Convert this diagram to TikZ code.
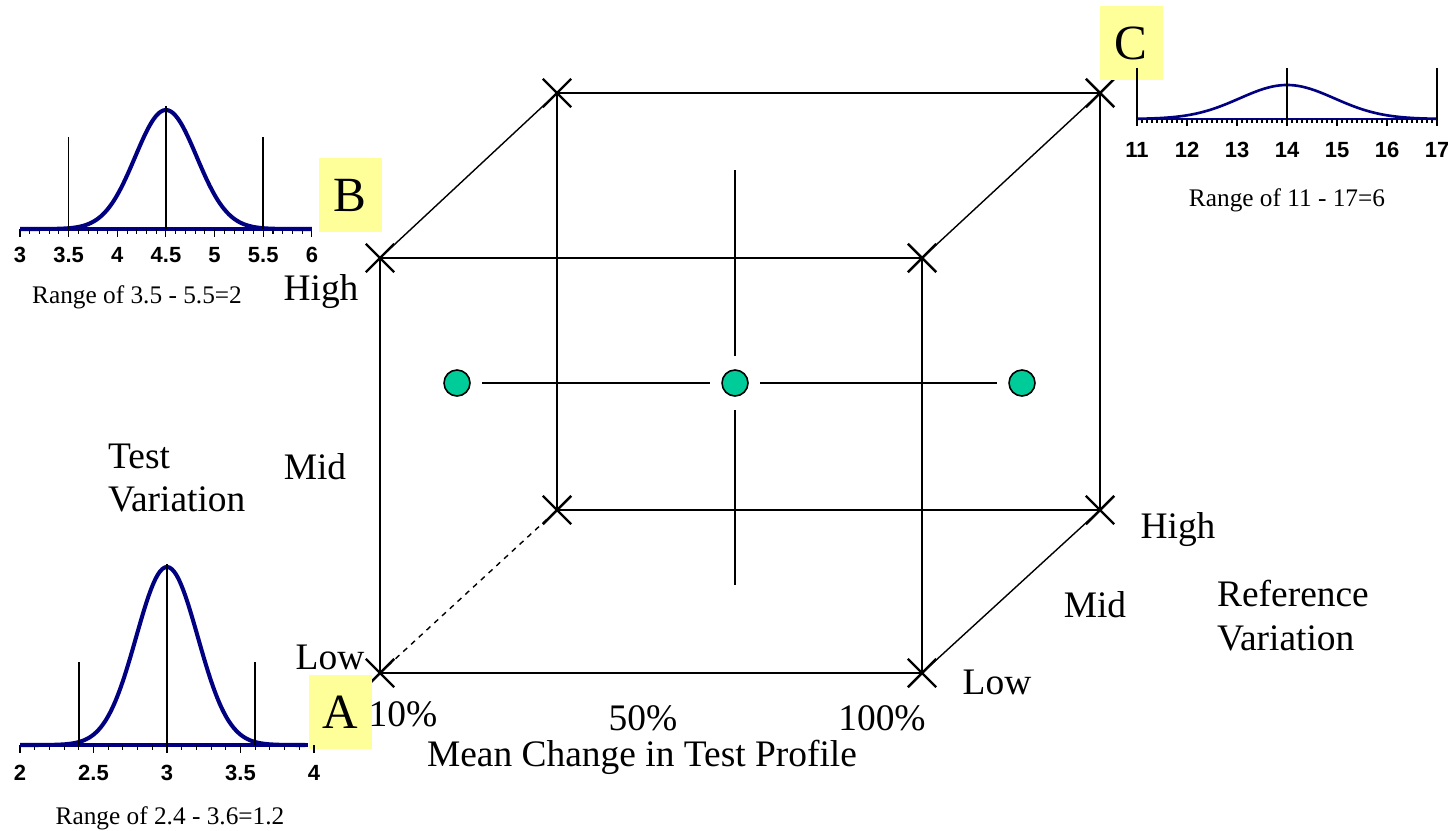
\documentclass[tikz,border=0pt]{standalone}
\usepackage{fontspec}
\setmainfont{Liberation Serif}
\newfontfamily\ticksf{Liberation Sans}
\usepackage{xcolor}
\usetikzlibrary{shapes.misc}
\definecolor{curveblue}{RGB}{0,0,128}
\definecolor{dotgreen}{RGB}{0,204,153}
\definecolor{tagyellow}{RGB}{255,255,153}

\begin{document}
\begin{tikzpicture}[x=0.2mm, y=-0.2mm, font=\fontsize{21.3}{25}\selectfont, every node/.style={inner sep=1pt}]
        \tikzset{
            edge/.style={line width=0.8pt},
            hidden/.style={edge, dashed},
            xmark/.style={draw, cross out, line width=1.4pt, minimum size=5.2mm, inner sep=0pt},
            dot/.style={circle, draw, fill=dotgreen, minimum size=5.2mm, inner sep=0pt, line width=0.9pt},
            link/.style={edge, shorten <=2.2mm, shorten >=2.2mm},
            tag/.style={fill=tagyellow, minimum width=12.6mm, minimum height=14.8mm, inner sep=0pt, font=\fontsize{28}{30}\selectfont},
            rng/.style={font=\fontsize{14.4}{16}\selectfont},
            tck/.style={font=\ticksf\bfseries\fontsize{12.5}{14}\selectfont},
            curve/.style={curveblue, line width=2.3pt, line join=round},
            axis/.style={curveblue, line width=1.8pt},
            guide/.style={line width=0.6pt}
        }
        \useasboundingbox (0,0) rectangle (1448,831);

        % cube corners (f = front, b = back)
        \coordinate (ftl) at (380,258);
        \coordinate (ftr) at (922,258);
        \coordinate (fbl) at (380,673);
        \coordinate (fbr) at (922,673);
        \coordinate (btl) at (557,93);
        \coordinate (btr) at (1100,93);
        \coordinate (bbl) at (557,510);
        \coordinate (bbr) at (1100,510);

        \draw[edge] (ftl) -- (ftr) -- (fbr) -- (fbl) -- cycle;
        \draw[edge] (btl) -- (btr) -- (bbr) -- (bbl) -- cycle;
        \draw[edge] (ftl) -- (btl);
        \draw[edge] (ftr) -- (btr);
        \draw[edge] (fbr) -- (bbr);
        \draw[hidden] (fbl) -- (bbl);

        \foreach \c in {ftl,ftr,fbl,fbr,btl,btr,bbl,bbr}
            \node[xmark] (x-\c) at (\c) {};

        % centre points
        \coordinate (vtop) at (735,170);
        \coordinate (vbot) at (735,585);
        \node[dot] (dleft) at (457,383) {};
        \node[dot] (dmid) at (735,383) {};
        \node[dot] (dright) at (1022,383) {};

        \draw[link] (dleft) -- (dmid);
        \draw[link] (dmid) -- (dright);
        \draw[edge, shorten >=2.6mm] (vtop) -- (dmid);
        \draw[edge, shorten <=2.6mm] (dmid) -- (vbot);

        % corner tags
        \node[tag] (tagA) at (340,712) {A};
        \node[tag] (tagB) at (350,195) {B};
        \node[tag] (tagC) at (1131,43) {C};

        % axis labels
        \node (thigh) at (321,292) {High};
        \node (tmid) at (315,467) {Mid};
        \node (tlow) at (330,657) {Low};
        \node[anchor=west, align=left] (tvar) at (106,478) {Test\\Variation};

        \node (p10) at (403,714) {10\%};
        \node (p50) at (643,718) {50\%};
        \node (p100) at (882,718) {100\%};
        \node (mean) at (642,757) {Mean Change in Test Profile};

        \node (rhigh) at (1178,530) {High};
        \node (rmid) at (1095,605) {Mid};
        \node (rlow) at (997,682) {Low};
        \node[anchor=west, align=left] (rvar) at (1215,616) {Reference\\Variation};

        % distribution B: 3 .. 6
        \draw[axis] (20,229) -- (312,229);
        \foreach \t in {0,...,30}
            \draw[guide] ({20+\t*9.73},229) -- ++(0,5);
        \foreach \t/\v in {0/3,5/3.5,10/4,15/4.5,20/5,25/5.5,30/6} {
            \draw[guide] ({20+\t*9.73},229) -- ++(0,8);
            \node[tck] (lb\t) at ({20+\t*9.73},255) {\v};
        }
        \draw[curve] plot[domain=3:6, samples=121, smooth] ({20+(\x-3)*97.3}, {229-119*exp(-((\x-4.5)^2)/0.2)});
        \draw[guide] (68.7,137) -- (68.7,229);
        \draw[guide] (166,106) -- (166,229);
        \draw[guide] (263,137) -- (263,229);
        \node[rng] (rngB) at (137,297) {Range of 3.5 - 5.5=2};

        % distribution A: 2 .. 4
        \draw[axis] (20,745) -- (308,745);
        \foreach \t in {0,...,20}
            \draw[guide] ({20+\t*14.7},745) -- ++(0,5);
        \foreach \t/\v in {0/2,5/2.5,10/3,15/3.5,20/4} {
            \draw[guide] ({20+\t*14.7},745) -- ++(0,8);
            \node[tck] (la\t) at ({20+\t*14.7},773) {\v};
        }
        \draw[curve] plot[domain=2:3.94, samples=121, smooth] ({20+(\x-2)*147}, {745-178*exp(-((\x-3)^2)/0.088)});
        \draw[guide] (79,662) -- (79,745);
        \draw[guide] (167,564) -- (167,745);
        \draw[guide] (255,662) -- (255,745);
        \node[rng] (rngA) at (170,818) {Range of 2.4 - 3.6=1.2};

        % distribution C: 11 .. 17
        \draw[axis, line width=1.5pt] (1137,119) -- (1437,119);
        \foreach \t in {0,...,60}
            \draw[guide] ({1137+\t*5},119) -- ++(0,4);
        \foreach \t/\v in {0/11,10/12,20/13,30/14,40/15,50/16,60/17} {
            \draw[guide] ({1137+\t*5},119) -- ++(0,7);
            \node[tck] (lc\t) at ({1137+\t*5},150) {\v};
        }
        \draw[curve, line width=1.5pt] plot[domain=11:17, samples=121, smooth] ({1137+(\x-11)*50}, {119-34*exp(-((\x-14)^2)/1.8)});
        \draw[guide] (1137,68) -- (1137,119);
        \draw[guide] (1287,68) -- (1287,119);
        \draw[guide] (1437,68) -- (1437,119);
        \node[rng] (rngC) at (1287,200) {Range of 11 - 17=6};
    \end{tikzpicture}
\end{document}
